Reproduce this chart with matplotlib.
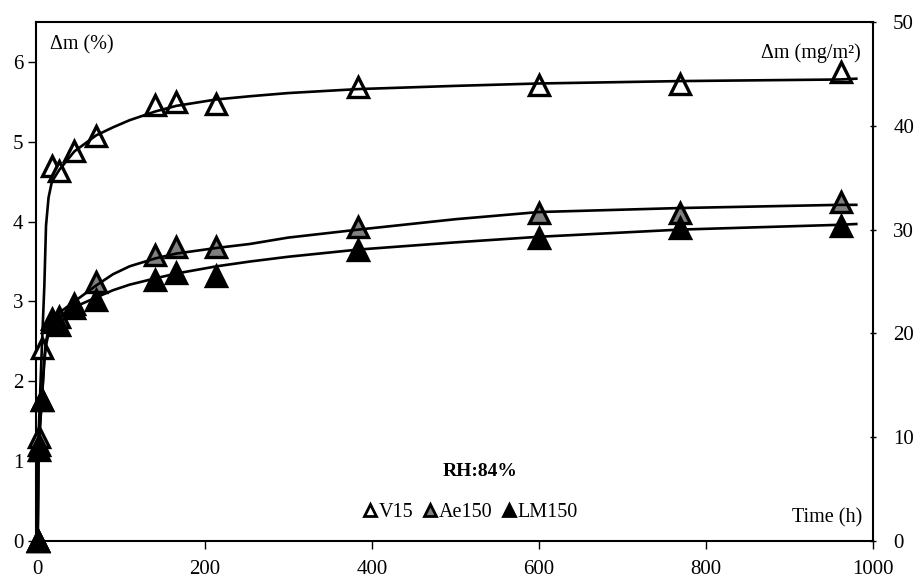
import matplotlib
matplotlib.use("Agg")
import matplotlib.pyplot as plt
from matplotlib.lines import Line2D

plt.rcParams['font.family'] = ['Liberation Serif', 'DejaVu Serif']

# measured points (time in h, mass gain in %)
time_h = [0, 1, 5, 17, 26, 44, 70, 141, 166, 214, 384, 600, 769, 962]
v15 = [0, 1.30, 2.42, 4.70, 4.63, 4.88, 5.07, 5.46, 5.50, 5.47, 5.68, 5.71, 5.72, 5.88]
ae150 = [0, 1.20, 1.76, 2.78, 2.80, 2.97, 3.25, 3.58, 3.68, 3.68, 3.93, 4.11, 4.11, 4.24]
lm150 = [0, 1.14, 1.77, 2.74, 2.70, 2.92, 3.02, 3.27, 3.36, 3.32, 3.65, 3.80, 3.92, 3.94]

# trend curves
fit_t = [0, 1, 5, 8, 10, 13, 17, 26, 44, 70, 90, 110, 141, 166, 214, 254, 300, 384, 500, 600, 769, 960, 980]
v15_fit = [0, 1.30, 2.42, 3.20, 3.95, 4.30, 4.50, 4.65, 4.88, 5.08, 5.18, 5.27, 5.38, 5.45, 5.53, 5.57, 5.61, 5.66, 5.70, 5.73, 5.76, 5.78, 5.79]
ae150_fit = [0, 1.20, 1.78, 2.30, 2.50, 2.65, 2.76, 2.86, 3.00, 3.20, 3.34, 3.44, 3.54, 3.60, 3.67, 3.72, 3.80, 3.90, 4.03, 4.12, 4.17, 4.21, 4.21]
lm150_fit = [0, 1.14, 1.77, 2.25, 2.45, 2.60, 2.70, 2.80, 2.93, 3.05, 3.14, 3.21, 3.29, 3.35, 3.44, 3.50, 3.56, 3.65, 3.74, 3.81, 3.90, 3.96, 3.97]

fig = plt.figure(figsize=(9.18, 5.82), dpi=100)
ax = fig.add_axes([36 / 918, 41 / 582, 837 / 918, 519 / 582])

series = [
    (v15, v15_fit, 'white', 'V15'),
    (ae150, ae150_fit, '#808080', 'Ae150'),
    (lm150, lm150_fit, 'black', 'LM150'),
]
for vals, fit, fc, name in series:
    ax.plot(time_h, vals, linestyle='none', marker='^', markersize=15,
            markerfacecolor=fc, markeredgecolor='black', markeredgewidth=2.4,
            clip_on=False, zorder=3)
for vals, fit, fc, name in series:
    ax.plot(fit_t, fit, color='black', linewidth=1.9, zorder=4)

ax.set_xlim(-2, 1000)
ax.set_ylim(0, 6.5)
ax.set_xticks([0, 200, 400, 600, 800, 1000])
ax.set_yticks([0, 1, 2, 3, 4, 5, 6])
ax.tick_params(axis='x', direction='out', length=6, width=1, labelsize=15, pad=8)
ax.tick_params(axis='y', direction='out', length=6, width=1, labelsize=15, pad=3)
for sp in ax.spines.values():
    sp.set_linewidth(1.5)

ax2 = ax.twinx()
ax2.set_ylim(0, 50)
ax2.set_yticks([0, 10, 20, 30, 40, 50])
ax2.tick_params(axis='y', direction='inout', length=5, width=1, labelsize=15, pad=12)
for sp in ax2.spines.values():
    sp.set_visible(False)

ax.text(0.017, 0.955, 'Δm (%)', transform=ax.transAxes, fontsize=14.5,
        ha='left', va='center')
ax.text(0.985, 0.94, 'Δm (mg/m²)', transform=ax.transAxes, fontsize=14.5,
        ha='right', va='center')
ax.text(0.987, 0.045, 'Time (h)', transform=ax.transAxes, fontsize=14.5,
        ha='right', va='center')
ax.text(0.53, 0.133, 'RH:84%', transform=ax.transAxes, fontsize=14,
        fontweight='bold', ha='center', va='center')

handles = [Line2D([], [], linestyle='none', marker='^', markersize=9,
                  markerfacecolor=fc, markeredgecolor='black', markeredgewidth=2)
           for _, _, fc, _ in series]
names = [s[3] for s in series]
fig.legend(handles, names, loc='center', bbox_to_anchor=(470 / 918, 1 - 512 / 582),
           ncol=3, frameon=False, fontsize=14.5, handlelength=0.8,
           handletextpad=0.05, columnspacing=0.4, borderpad=0)

fig.savefig('out.png', dpi=100)
